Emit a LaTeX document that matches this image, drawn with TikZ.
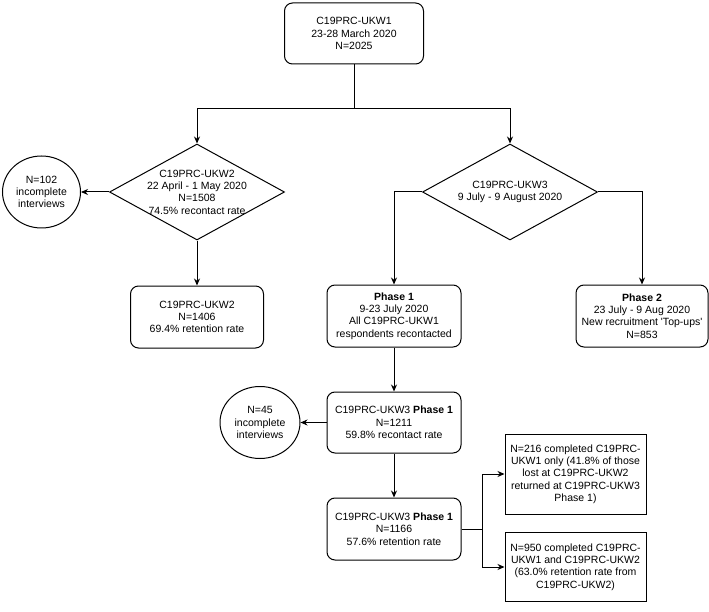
\documentclass[tikz,border=0pt]{standalone}
\usepackage{fontspec}
\setmainfont{Liberation Sans}
\usepackage{tikz}
\usetikzlibrary{arrows.meta,positioning,shapes.geometric}
\newcommand\chartfont{\fontsize{10.5}{12.3}\selectfont}

\begin{document}
\begin{tikzpicture}[x=1pt,y=-1pt,
  node distance=44pt,
  n/.style={draw,rounded corners=8pt,line width=1pt,minimum width=134pt,
    minimum height=62pt,inner sep=2pt,align=center,font=\chartfont},
  sq/.style={draw,line width=1pt,minimum width=141pt,inner sep=2pt,
    align=center,font=\chartfont},
  d/.style={draw,diamond,aspect=1.8,line width=1pt,minimum width=175pt,
    minimum height=96pt,inner sep=-10pt,align=center,font=\chartfont},
  c/.style={draw,ellipse,line width=1pt,minimum width=78pt,
    minimum height=72pt,inner sep=0pt,align=center,font=\chartfont},
  a/.style={-{Stealth[length=7pt,width=6pt]},line width=1pt}
]
  \useasboundingbox (0,0) rectangle (709,612);
  \node[n,minimum width=139pt,minimum height=61pt] (w1) at (354,33.5)
    {C19PRC-UKW1\\23-28 March 2020\\N=2025};
  \node[d] (w2) at (197,192) {C19PRC-UKW2\\22 April - 1 May 2020\\N=1508\\
    74.5\% recontact rate};
  \node[d] (w3) at (510,192) {C19PRC-UKW3\\9 July - 9 August 2020};
  \node[c,left=28pt of w2] (lost2) {N=102\\incomplete\\interviews};
  \node[n,minimum width=133pt,below=45pt of w2] (w2ret)
    {C19PRC-UKW2\\N=1406\\69.4\% retention rate};
  \node[n] (ph1) at (394,316) {\textbf{Phase 1}\\9-23 July 2020\\
    All C19PRC-UKW1\\respondents recontacted};
  \node[n,minimum width=132pt] (ph2) at (642,316) {\textbf{Phase 2}\\
    23 July - 9 Aug 2020\\New recruitment \textquotesingle Top-ups\textquotesingle\\N=853};
  \node[n,minimum height=61pt,below=of ph1] (w3con)
    {C19PRC-UKW3 \textbf{Phase 1}\\N=1211\\59.8\% recontact rate};
  \node[c,minimum width=80pt,left=26pt of w3con] (lost3)
    {N=45\\incomplete\\interviews};
  \node[n,below=of w3con] (w3ret)
    {C19PRC-UKW3 \textbf{Phase 1}\\N=1166\\57.6\% retention rate};
  \node[sq,minimum height=80pt] (only1) at (575.5,474)
    {N=216 completed C19PRC-\\UKW1 only (41.8\% of those\\lost at C19PRC-UKW2\\
    returned at C19PRC-UKW3\\Phase 1)};
  \node[sq,minimum height=69pt] (both) at (575.5,567)
    {N=950 completed C19PRC-\\UKW1 and C19PRC-UKW2\\(63.0\% retention rate from\\
    C19PRC-UKW2)};
  \coordinate[below=44pt of w1.south] (split);
  \coordinate[right=21pt of w3ret.east] (fork);
  \draw[line width=1pt] (w1) -- (split);
  \draw[a] (split) -| (w2);
  \draw[a] (split) -| (w3);
  \draw[a] (w2) -- (lost2);
  \draw[a] (w2) -- (w2ret);
  \draw[a] (w3.west) -| (ph1);
  \draw[a] (w3.east) -| (ph2);
  \draw[a] (ph1) -- (w3con);
  \draw[a] (w3con) -- (lost3);
  \draw[a] (w3con) -- (w3ret);
  \draw[line width=1pt] (w3ret) -- (fork);
  \draw[a] (fork) |- (only1);
  \draw[a] (fork) |- (both);
\end{tikzpicture}
\end{document}
